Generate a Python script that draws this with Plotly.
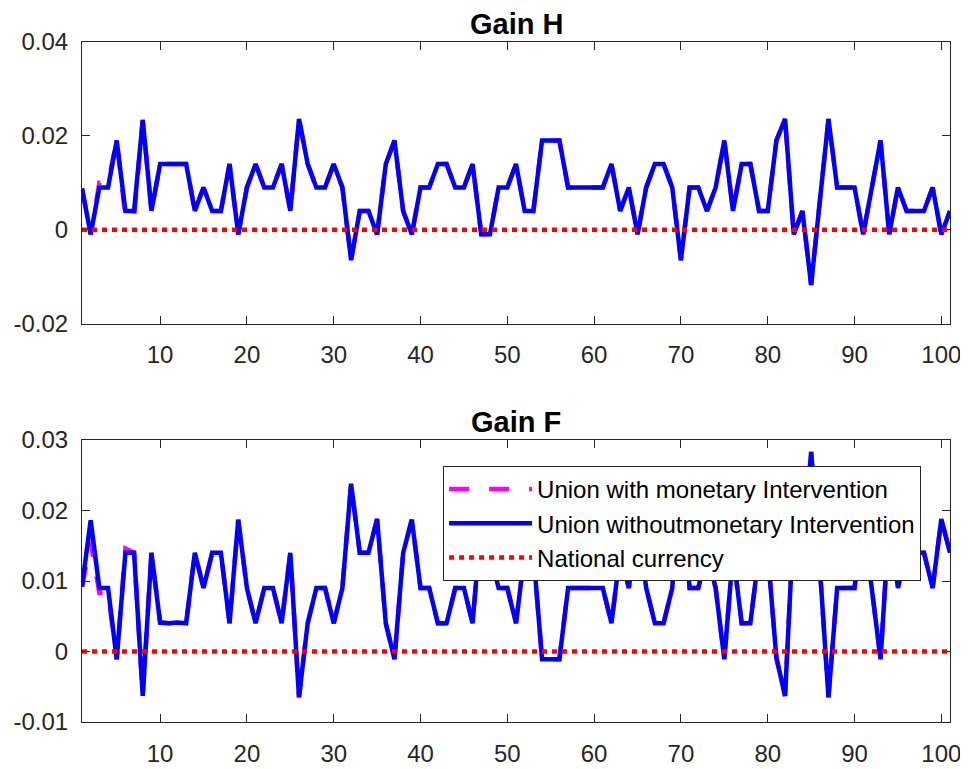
import plotly.graph_objects as go
from plotly.subplots import make_subplots

# periods 1..101
periods = list(range(1, 102))

# Gain H, union without intervention
gain_h_without = [
    0.0088, -0.001, 0.009, 0.009, 0.019, 0.004, 0.004, 0.0234, 0.004, 0.014,
    0.014, 0.014, 0.014, 0.004, 0.009, 0.004, 0.004, 0.014, -0.001, 0.009,
    0.014, 0.009, 0.009, 0.014, 0.004, 0.0236, 0.014, 0.009, 0.009, 0.014,
    0.009, -0.0065, 0.004, 0.004, -0.001, 0.014, 0.019, 0.004, -0.001, 0.009,
    0.009, 0.014, 0.014, 0.009, 0.009, 0.014, -0.001, -0.001, 0.009, 0.009,
    0.014, 0.004, 0.004, 0.019, 0.019, 0.019, 0.009, 0.009, 0.009, 0.009,
    0.009, 0.014, 0.004, 0.009, -0.001, 0.009, 0.014, 0.014, 0.009, -0.0065,
    0.009, 0.009, 0.004, 0.009, 0.019, 0.004, 0.014, 0.014, 0.004, 0.004,
    0.019, 0.0236, -0.001, 0.004, -0.0118, 0.006, 0.0236, 0.009, 0.009, 0.009,
    -0.001, 0.009, 0.019, -0.001, 0.009, 0.004, 0.004, 0.004, 0.009, -0.001,
    0.004,
]

# Gain H, union with intervention (differs only in the first periods)
gain_h_with = [
    0.0088, -0.001, 0.010, 0.010, 0.019, 0.0027, 0.0027, 0.0234, 0.004, 0.014,
    0.014, 0.014, 0.014, 0.004, 0.009, 0.004, 0.004, 0.014, -0.001, 0.009,
    0.014, 0.009, 0.009, 0.014, 0.004, 0.0236, 0.014, 0.009, 0.009, 0.014,
    0.009, -0.0065, 0.004, 0.004, -0.001, 0.014, 0.019, 0.004, -0.001, 0.009,
    0.009, 0.014, 0.014, 0.009, 0.009, 0.014, -0.001, -0.001, 0.009, 0.009,
    0.014, 0.004, 0.004, 0.019, 0.019, 0.019, 0.009, 0.009, 0.009, 0.009,
    0.009, 0.014, 0.004, 0.009, -0.001, 0.009, 0.014, 0.014, 0.009, -0.0065,
    0.009, 0.009, 0.004, 0.009, 0.019, 0.004, 0.014, 0.014, 0.004, 0.004,
    0.019, 0.0236, -0.001, 0.004, -0.0118, 0.006, 0.0236, 0.009, 0.009, 0.009,
    -0.001, 0.009, 0.019, -0.001, 0.009, 0.004, 0.004, 0.004, 0.009, -0.001,
    0.004,
]

# Gain F, union without intervention
gain_f_without = [
    0.0092, 0.0186, 0.009, 0.009, -0.0011, 0.014, 0.014, -0.0063, 0.014, 0.0041,
    0.004, 0.0041, 0.004, 0.014, 0.009, 0.014, 0.014, 0.004, 0.0187, 0.009,
    0.004, 0.009, 0.009, 0.004, 0.014, -0.0065, 0.004, 0.009, 0.009, 0.004,
    0.009, 0.0238, 0.014, 0.014, 0.0188, 0.004, -0.0011, 0.014, 0.0187, 0.009,
    0.009, 0.004, 0.004, 0.009, 0.009, 0.004, 0.0187, 0.014, 0.009, 0.009,
    0.004, 0.014, 0.014, -0.0011, -0.0011, -0.0011, 0.009, 0.009, 0.009, 0.009,
    0.009, 0.004, 0.014, 0.009, 0.0187, 0.009, 0.004, 0.004, 0.009, 0.0238,
    0.009, 0.009, 0.014, 0.009, -0.0011, 0.014, 0.004, 0.004, 0.014, 0.014,
    -0.0009, -0.0063, 0.0187, 0.014, 0.0283, 0.012, -0.0065, 0.009, 0.009, 0.009,
    0.0187, 0.009, -0.0011, 0.0187, 0.009, 0.014, 0.014, 0.014, 0.009, 0.0188,
    0.014,
]

# Gain F, union with intervention
gain_f_with = [
    0.0092, 0.0155, 0.0083, 0.0083, -0.0011, 0.0146, 0.014, -0.0063, 0.014, 0.0041,
    0.004, 0.0041, 0.004, 0.014, 0.009, 0.014, 0.014, 0.004, 0.0187, 0.009,
    0.004, 0.009, 0.009, 0.004, 0.014, -0.0065, 0.004, 0.009, 0.009, 0.004,
    0.009, 0.0238, 0.014, 0.014, 0.0188, 0.004, -0.0011, 0.014, 0.0187, 0.009,
    0.009, 0.004, 0.004, 0.009, 0.009, 0.004, 0.0187, 0.014, 0.009, 0.009,
    0.004, 0.014, 0.014, -0.0011, -0.0011, -0.0011, 0.009, 0.009, 0.009, 0.009,
    0.009, 0.004, 0.014, 0.009, 0.0187, 0.009, 0.004, 0.004, 0.009, 0.0238,
    0.009, 0.009, 0.014, 0.009, -0.0011, 0.014, 0.004, 0.004, 0.014, 0.014,
    -0.0009, -0.0063, 0.0187, 0.014, 0.0283, 0.012, -0.0065, 0.009, 0.009, 0.009,
    0.0187, 0.009, -0.0011, 0.0187, 0.009, 0.014, 0.014, 0.014, 0.009, 0.0188,
    0.014,
]

# national currency benchmark is zero everywhere
national = [0.0] * len(periods)

x_ticks = [10, 20, 30, 40, 50, 60, 70, 80, 90, 100]
h_ticks = [-0.02, 0, 0.02, 0.04]
h_ticktext = ['-0.02', '0', '0.02', '0.04']
f_ticks = [-0.01, 0, 0.01, 0.02, 0.03]
f_ticktext = ['-0.01', '0', '0.01', '0.02', '0.03']

FONT = 'Liberation Sans, Arial, Helvetica, sans-serif'
AXIS_COLOR = '#262626'

fig = make_subplots(rows=2, cols=1)

panels = [
    (1, gain_h_with, gain_h_without, False),
    (2, gain_f_with, gain_f_without, True),
]
for row, with_vals, without_vals, show in panels:
    fig.add_trace(go.Scatter(
        x=periods, y=with_vals, mode='lines',
        name='Union with monetary Intervention',
        line=dict(color='#ff00ff', width=4.5, dash='20px,20px'),
        showlegend=show,
    ), row=row, col=1)
    fig.add_trace(go.Scatter(
        x=periods, y=without_vals, mode='lines',
        name='Union withoutmonetary Intervention',
        line=dict(color='#0000ff', width=4.5),
        showlegend=show,
    ), row=row, col=1)
    fig.add_trace(go.Scatter(
        x=periods, y=national, mode='lines',
        name='National currency',
        line=dict(color='#ff0000', width=4.5, dash='5px,5px'),
        showlegend=show,
    ), row=row, col=1)

axis_common = dict(
    showline=True, linecolor=AXIS_COLOR, linewidth=1, mirror='ticks',
    ticks='inside', ticklen=8, tickcolor=AXIS_COLOR, tickwidth=1,
    showgrid=False, zeroline=False, automargin=False,
    tickfont=dict(family=FONT, size=24, color=AXIS_COLOR),
)

fig.update_xaxes(range=[1, 101], tickvals=x_ticks, ticklabelstandoff=10, **axis_common)
fig.update_yaxes(ticklabelstandoff=8, **axis_common)
fig.update_yaxes(range=[-0.02, 0.04], tickvals=h_ticks, ticktext=h_ticktext, row=1, col=1)
fig.update_yaxes(range=[-0.01, 0.03], tickvals=f_ticks, ticktext=f_ticktext, row=2, col=1)

# page body has an 8px margin, so the figure is 8px smaller than the window
fig.update_layout(
    width=960, height=761,
    margin=dict(l=74, r=18, t=34, b=47),
    paper_bgcolor='white', plot_bgcolor='white',
    font=dict(family=FONT, color='black'),
    xaxis=dict(domain=[0, 1]),
    yaxis=dict(domain=[0.586, 1]),
    xaxis2=dict(domain=[0, 1]),
    yaxis2=dict(domain=[0, 0.4147]),
    legend=dict(
        x=0.416, y=0.3765, xanchor='left', yanchor='top',
        bgcolor='white', bordercolor=AXIS_COLOR, borderwidth=1,
        font=dict(family=FONT, size=24, color='black'),
        itemwidth=83, tracegroupgap=0,
    ),
    annotations=[
        dict(text='<b>Gain H</b>', x=0.5, y=1, xref='paper', yref='paper',
             xanchor='center', yanchor='bottom', yshift=0, showarrow=False,
             font=dict(family=FONT, size=29, color='black')),
        dict(text='<b>Gain F</b>', x=0.5, y=0.4147, xref='paper', yref='paper',
             xanchor='center', yanchor='bottom', yshift=0, showarrow=False,
             font=dict(family=FONT, size=29, color='black')),
    ],
)

fig.write_html("out.html")
